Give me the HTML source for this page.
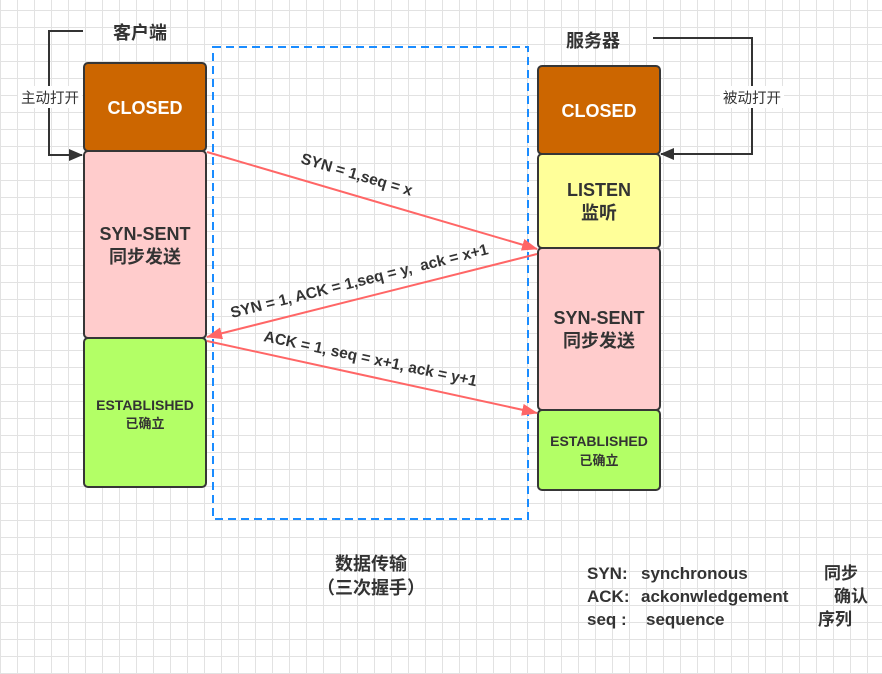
<!DOCTYPE html>
<html><head><meta charset="utf-8"><style>
body{margin:0;width:882px;height:674px;overflow:hidden;background:#fff;
background-image:linear-gradient(#e2e2e2 1px,transparent 1px),linear-gradient(90deg,#e2e2e2 1px,transparent 1px);background-size:17px 17px;background-position:0 10px,0 0;
font-family:"Liberation Sans","Noto Sans CJK SC",sans-serif;}
</style></head><body>
<svg width="882" height="674" style="position:absolute;left:0;top:0" font-family="Liberation Sans, Noto Sans CJK SC, sans-serif">
<defs><marker id="ar" markerWidth="16" markerHeight="12" refX="15" refY="6" orient="auto" markerUnits="userSpaceOnUse"><path d="M0,0 L16,6 L0,12 z" fill="#ff6666"/></marker>
<marker id="ak" markerWidth="14" markerHeight="12" refX="13" refY="6" orient="auto" markerUnits="userSpaceOnUse"><path d="M0,0 L14,6 L0,12 z" fill="#333"/></marker></defs>
<rect x="213" y="47" width="315" height="472" fill="none" stroke="#1a8cff" stroke-width="2" stroke-dasharray="8,5"/>
<g stroke="#363636" stroke-width="2">
<rect x="84" y="63" width="122" height="88" rx="4" fill="#cc6600"/>
<rect x="84" y="151" width="122" height="187" rx="4" fill="#ffcccc"/>
<rect x="84" y="338" width="122" height="149" rx="4" fill="#b3ff66"/>
<rect x="538" y="66" width="122" height="88" rx="4" fill="#cc6600"/>
<rect x="538" y="154" width="122" height="94" rx="4" fill="#ffff99"/>
<rect x="538" y="248" width="122" height="162" rx="4" fill="#ffcccc"/>
<rect x="538" y="410" width="122" height="80" rx="4" fill="#b3ff66"/>
</g>
<path d="M83,31 L49,31 L49,155 L82,155" fill="none" stroke="#333" stroke-width="2" marker-end="url(#ak)"/>
<path d="M653,38 L752,38 L752,154 L661,154" fill="none" stroke="#333" stroke-width="2" marker-end="url(#ak)"/>
<rect x="18" y="86" width="64" height="22" fill="#fff"/>
<text x="50" y="103" font-size="14.5" text-anchor="middle" fill="#333">主动打开</text>
<rect x="720" y="86" width="64" height="22" fill="#fff"/>
<text x="752" y="103" font-size="14.5" text-anchor="middle" fill="#333">被动打开</text>
<g stroke="#ff6666" stroke-width="2" fill="none">
<line x1="207" y1="152" x2="537" y2="249" marker-end="url(#ar)"/>
<line x1="537" y1="254" x2="207" y2="337" marker-end="url(#ar)"/>
<line x1="207" y1="341" x2="537" y2="413" marker-end="url(#ar)"/>
</g>
<g font-weight="bold" fill="#333" font-size="15.5">
<text x="113" y="39" font-size="18">客户端</text>
<text x="566" y="47" font-size="18">服务器</text>
<text x="145" y="114" text-anchor="middle" fill="#fff" font-size="18">CLOSED</text>
<text x="599" y="117" text-anchor="middle" fill="#fff" font-size="18">CLOSED</text>
<text x="145" y="240" text-anchor="middle" font-size="18">SYN-SENT</text>
<text x="145" y="263" text-anchor="middle" font-size="18">同步发送</text>
<text x="599" y="196" text-anchor="middle" font-size="18">LISTEN</text>
<text x="599" y="219" text-anchor="middle" font-size="18">监听</text>
<text x="599" y="324" text-anchor="middle" font-size="18">SYN-SENT</text>
<text x="599" y="347" text-anchor="middle" font-size="18">同步发送</text>
<text x="145" y="410" text-anchor="middle" font-size="14">ESTABLISHED</text>
<text x="145" y="428" text-anchor="middle" font-size="13">已确立</text>
<text x="599" y="446" text-anchor="middle" font-size="14">ESTABLISHED</text>
<text x="599" y="465" text-anchor="middle" font-size="13">已确立</text>
<text transform="translate(300,163) rotate(16.5)">SYN = 1,seq = x</text>
<text transform="translate(232,318) rotate(-14)" xml:space="preserve">SYN = 1, ACK = 1,seq = y,  ack = x+1</text>
<text transform="translate(263,341) rotate(12)">ACK = 1, seq = x+1, ack = y+1</text>
<text x="371" y="570" text-anchor="middle" font-size="18">数据传输</text>
<text x="371" y="594" text-anchor="middle" font-size="18">（三次握手）</text>
<g font-size="17">
<text x="587" y="579">SYN:</text><text x="641" y="579">synchronous</text><text x="824" y="579">同步</text>
<text x="587" y="602">ACK:</text><text x="641" y="602">ackonwledgement</text><text x="834" y="602">确认</text>
<text x="587" y="625">seq :</text><text x="646" y="625">sequence</text><text x="818" y="625">序列</text>
</g>
</g>
</svg>
</body></html>
